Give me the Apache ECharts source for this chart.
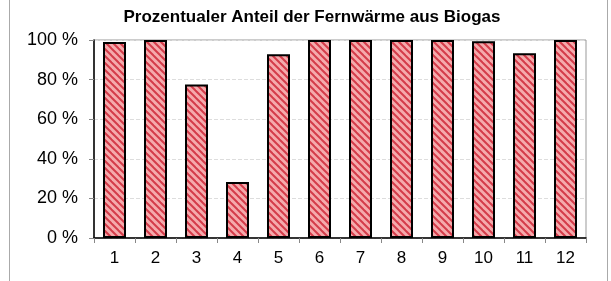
<!DOCTYPE html>
<html>
<head>
<meta charset="utf-8">
<script src="https://cdn.jsdelivr.net/npm/echarts@6/dist/echarts.min.js"></script>
<style>
  html, body { margin: 0; padding: 0; background: #fff; }
  #main { width: 611px; height: 281px; }
</style>
</head>
<body>
<div id="main"></div>
<script>
// data
const months = ["1", "2", "3", "4", "5", "6", "7", "8", "9", "10", "11", "12"];
const shareBiogas = [99, 100, 77.5, 28.3, 92.8, 100, 100, 100, 100, 99.4, 93.3, 100];
const yTicks = [0, 20, 40, 60, 80, 100];

const chart = echarts.init(document.getElementById("main"));

// red diagonal hatch like the original
function hatch() {
  const s = 7;
  const c = document.createElement("canvas");
  c.width = s;
  c.height = s;
  const ctx = c.getContext("2d");
  ctx.fillStyle = "#f5aaac";
  ctx.fillRect(0, 0, s, s);
  ctx.strokeStyle = "#d43c4a";
  ctx.lineWidth = 2;
  for (let k = -2; k <= 2; k++) {
    ctx.beginPath();
    ctx.moveTo(k * s - 1, -1);
    ctx.lineTo(k * s + s + 1, s + 1);
    ctx.stroke();
  }
  return c;
}

const font = "Liberation Sans, Arial, sans-serif";

let option = {
  animation: false,
  title: {
    text: "Prozentualer Anteil der Fernwärme aus Biogas",
    left: 307,
    textAlign: "center",
    top: 4,
    textStyle: { fontFamily: font, fontSize: 17, fontWeight: "bold", color: "#000" },
  },
  graphic: [
    {
      type: "rect",
      shape: { x: 9.5, y: -5, width: 598, height: 295 },
      style: { fill: "none", stroke: "#aaa", lineWidth: 1 },
      silent: true,
    },
  ],
  grid: { left: 94, right: 25, top: 40, bottom: 43, show: true, borderColor: "#999", borderWidth: 1 },
  xAxis: {
    type: "category",
    data: months,
    axisLine: { lineStyle: { color: "#000", width: 1.5 } },
    axisTick: { show: true, length: 5, lineStyle: { color: "#888" } },
    axisLabel: { fontFamily: font, fontSize: 17, color: "#000", margin: 12 },
  },
  yAxis: {
    type: "value",
    min: yTicks[0],
    max: yTicks[yTicks.length - 1],
    interval: 20,
    axisLine: { show: true, lineStyle: { color: "#000", width: 1.5 } },
    axisTick: { show: true, length: 5, lineStyle: { color: "#888" } },
    axisLabel: { fontFamily: font, fontSize: 18, color: "#000", margin: 16, formatter: "{value} %" },
    splitLine: { lineStyle: { color: "#ddd", type: "dashed" } },
  },
  series: [
    {
      type: "bar",
      data: shareBiogas,
      barWidth: 23,
      itemStyle: {
        color: { image: hatch(), repeat: "repeat" },
        borderColor: "#000",
        borderWidth: 2,
      },
    },
  ],
};

chart.setOption(option);
</script>
</body>
</html>
